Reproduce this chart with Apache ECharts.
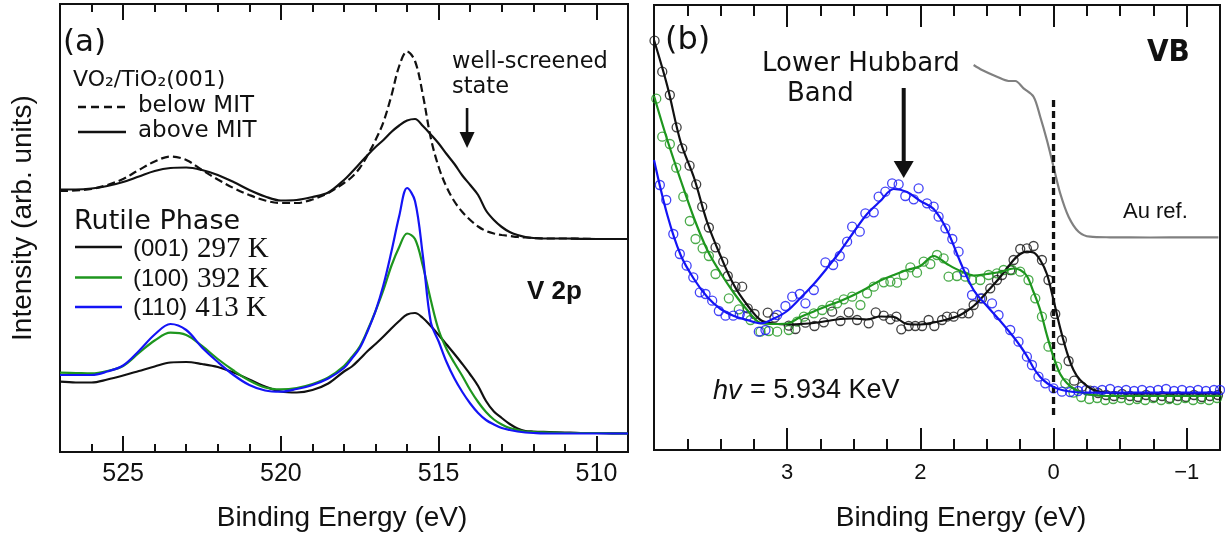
<!DOCTYPE html>
<html>
<head>
<meta charset="utf-8">
<title>VO2 V 2p and valence band HAXPES</title>
<script src="https://cdn.jsdelivr.net/npm/echarts@6/dist/echarts.min.js"></script>
<style>
  html, body { margin: 0; padding: 0; background: #fff; }
  #chart { width: 1225px; height: 539px; }
</style>
</head>
<body>
<div id="chart"></div>
<script>
// ---------- (a) V 2p core level ----------
const v2pEnergy = [527, 526.5, 526, 525.5, 525, 524.5, 524, 523.5, 523, 522.5, 522, 521.5, 521, 520.5, 520,
  519.5, 519, 518.5, 518, 517.75, 517.5, 517.25, 517, 516.75, 516.5, 516.25, 516, 515.75, 515.5, 515.25, 515,
  514.75, 514.5, 514.25, 514, 513.75, 513.5, 513.25, 513, 512.75, 512.5, 512.25, 512, 511.5, 511, 510.5, 510, 509.5, 509];

// VO2/TiO2(001), offset upper pair
const v2pBelowMIT = [261, 261.5, 263, 267, 273, 282, 290.5, 295.5, 292, 282, 272.5, 264, 257, 251.5, 249, 249,
  252.5, 259, 269, 275, 284, 297, 312, 330, 356, 386, 400.5, 391, 357, 314, 285, 265, 250.5, 240, 232, 225.5,
  221, 218.5, 217, 216, 215, 214.5, 214, 213.5, 213.5, 213.3, 213, 213, 213];
const v2pAboveMIT = [262.5, 262.5, 263.5, 266, 270, 275.5, 281, 284, 284.5, 282, 277, 270, 262, 255.5, 251.5, 252,
  255, 259.5, 272, 280, 288.5, 297, 305, 312, 320, 326.5, 331.5, 333, 326, 317.5, 308.5, 298, 288, 276.5, 267, 257,
  241.5, 232, 225, 220, 217, 215, 214, 213.5, 213.5, 213.2, 213, 213, 213];

// Rutile phase films
const v2pRutile001 = [70.3, 69.5, 69.5, 72.5, 76.5, 81, 85.5, 89.5, 90, 88, 85, 79.5, 72.5, 65.5, 60.5, 59.5, 62,
  68.5, 80.5, 85.5, 93, 101, 108, 115.5, 123.5, 131, 137.5, 139, 134, 126, 117, 107.5, 98, 88, 77.5, 66, 51, 40.5,
  34, 28, 23.5, 21, 20.5, 20, 19.5, 19, 19, 18.7, 18.5];
const v2pRutile100 = [79.3, 79, 78.7, 81, 86, 99, 111.5, 119.3, 117, 106, 93, 81.5, 71.5, 64.5, 62.7, 64, 68, 74.5,
  86, 95, 105.5, 122, 141, 162, 186, 205, 218.5, 213, 186, 152, 122, 103, 89, 76, 62, 50, 40, 32.5, 27.5, 24, 22,
  20.5, 20, 19.5, 19, 19, 19, 18.7, 18.5];
const v2pRutile110 = [77, 77, 77, 80.5, 86.5, 101, 117.5, 128, 122, 104.5, 90, 77, 67, 61.5, 60.3, 63, 67, 73.5, 84,
  93.5, 104, 121, 141, 167, 200, 236, 264, 251, 196, 130, 110.5, 90, 73.5, 60, 48.5, 39, 32, 27.5, 24, 22, 20.5,
  19.5, 19, 18.5, 18.5, 18.5, 18.5, 18.5, 18.5];

const v2pMajorTicks = [510, 515, 520, 525];
const v2pMinorTicks = [509, 511, 512, 513, 514, 516, 517, 518, 519, 521, 522, 523, 524, 526];
const wellScreenedArrow = [[514.1, 344, 304]];   // [energy, tail, tip]

// ---------- (b) valence band ----------
const vbFitEnergy = [3.0, 2.9, 2.8, 2.7, 2.6, 2.5, 2.4, 2.3, 2.2, 2.1, 2.0, 1.9, 1.8, 1.7, 1.6, 1.5, 1.4, 1.3, 1.2,
  1.1, 1.0, 0.9, 0.8, 0.7, 0.6, 0.5, 0.4, 0.3, 0.25, 0.2, 0.15, 0.1, 0.05, 0.0, -0.05, -0.1, -0.15, -0.2, -0.3,
  -0.4, -0.5, -0.6, -0.7, -0.8, -0.9, -1.0, -1.1, -1.25];
const vbFit001 = [410, 364, 308, 272.5, 227.5, 194, 165, 145, 130, 126.5, 125.5, 126, 127, 129, 131, 131.5, 130.5,
  133.5, 133, 126, 125.5, 127.5, 130.5, 135, 144, 158, 173, 190, 196, 198.3, 197.5, 190, 176, 150, 122, 98, 80, 70,
  60, 57.5, 57, 56.5, 56.5, 56.5, 56.5, 56.5, 56.5, 56.5];
const vbFit100 = [354, 310, 270, 232, 200, 177, 157, 140, 127, 126, 126.5, 133, 138.5, 144, 149, 155, 162, 169.5,
  175, 180, 184, 194, 186, 179, 174.5, 176, 178, 181.5, 180, 174, 158, 140, 115, 93, 76, 67, 61.5, 58, 55, 54, 54,
  54, 54, 54, 54, 54, 54, 54];
const vbFit110 = [290, 235, 195, 171, 153, 141, 134, 130, 126.7, 131.5, 139, 152, 166, 182, 199, 218, 236, 249, 261,
  258, 249, 241, 220, 188, 160, 144, 129, 113, 104, 94, 82, 73, 67, 63, 60.5, 59, 58, 57.5, 57.3, 57.3, 57.3, 57.3,
  57.3, 57.3, 57.3, 57.3, 57.3, 57.3];

const vbPoints001 = [[2.996,409.3],[2.938,378.3],[2.881,355],[2.830,322.7],[2.788,301.7],[2.733,284.3],[2.683,265.7],
  [2.638,243.3],[2.588,222.5],[2.538,202.7],[2.480,188.3],[2.446,174],[2.388,163.3],[2.338,163.3],[2.296,141.7],
  [2.245,136],[2.146,137.3],[2.095,132.3],[1.988,124.3],[1.938,121],[1.863,127.3],[1.795,124],[1.725,127.7],
  [1.662,138.3],[1.600,129],[1.538,137.7],[1.475,130],[1.388,126.7],[1.335,137.7],[1.275,134.3],[1.225,130.7],
  [1.180,133.3],[1.143,120.7],[1.088,124],[1.038,124],[0.987,124],[0.938,130],[0.895,124],[0.837,130],[0.800,133.3],
  [0.750,133.3],[0.687,136.7],[0.638,136.7],[0.600,145],[0.537,151.7],[0.475,161.7],[0.425,170],[0.387,175],
  [0.325,180],[0.300,190],[0.250,201],[0.200,201.7],[0.150,204],[0.087,190],[0.038,170],[-0.013,136],[-0.063,110],
  [-0.113,89],[-0.155,69.3],[-0.213,63.3],[-0.275,59.3],[-0.335,57],[-0.395,55],[-0.455,54],[-0.515,56],[-0.575,54],
  [-0.635,53],[-0.695,55],[-0.755,53],[-0.815,54],[-0.875,52],[-0.935,54],[-0.995,53],[-1.055,55],[-1.115,53],
  [-1.175,54],[-1.235,55]];
const vbPoints100 = [[2.983,351.3],[2.938,313.3],[2.881,306],[2.833,282.3],[2.780,253.3],[2.731,229],[2.688,211],
  [2.635,201.7],[2.588,194],[2.538,176],[2.438,151.7],[2.363,140.7],[2.275,130],[2.200,118.3],[2.138,119],
  [2.075,118.3],[1.988,120],[1.925,128.3],[1.875,133.3],[1.800,136.7],[1.737,140],[1.675,144.3],[1.625,146.7],
  [1.575,150.7],[1.512,153.3],[1.450,145],[1.400,156.7],[1.350,163.3],[1.275,167.7],[1.225,168.3],[1.175,167.3],
  [1.125,175],[1.075,182.7],[1.025,177.3],[0.975,188.3],[0.925,186],[0.875,195],[0.825,191.7],[0.788,173.3],
  [0.725,174],[0.662,173.3],[0.612,170],[0.550,170],[0.488,175],[0.425,176.7],[0.375,180],[0.312,180],[0.250,178.3],
  [0.188,170],[0.137,151.7],[0.087,133.3],[0.038,103.3],[-0.026,83.3],[-0.088,66.7],[-0.150,57.3],[-0.208,53],
  [-0.268,51],[-0.328,52],[-0.388,50],[-0.448,51],[-0.508,52],[-0.568,50],[-0.628,51],[-0.688,50],[-0.748,52],
  [-0.808,50],[-0.868,51],[-0.928,50],[-0.988,52],[-1.048,50],[-1.108,51],[-1.168,50],[-1.228,52]];
const vbPoints110 = [[2.956,265],[2.908,250],[2.855,216],[2.806,196],[2.755,184.3],[2.705,172.7],[2.656,157.7],
  [2.613,156],[2.563,149.3],[2.513,139],[2.463,134.3],[2.405,134.3],[2.356,135.7],[2.300,134],[2.213,118.3],
  [2.163,120],[2.075,135],[2.013,144],[1.962,153.3],[1.905,156],[1.863,146.7],[1.800,160],[1.713,187.7],[1.655,185],
  [1.605,194],[1.550,208.3],[1.512,223.3],[1.455,218.3],[1.413,236.7],[1.350,237.7],[1.313,253.3],[1.263,258.3],
  [1.212,266.7],[1.163,265.7],[1.113,254],[1.050,250.7],[1.013,261.7],[0.950,246.7],[0.900,243.3],[0.863,233.3],
  [0.812,221.7],[0.760,211],[0.713,198.3],[0.670,178],[0.612,155],[0.550,151.7],[0.462,146.7],[0.413,135],
  [0.325,120],[0.263,108.3],[0.200,93.3],[0.162,85],[0.113,73.3],[0.062,66.7],[0.000,61.7],[-0.063,58.3],
  [-0.125,58],[-0.185,59],[-0.245,60],[-0.305,59],[-0.365,60],[-0.425,61],[-0.485,59],[-0.545,60],[-0.605,59],
  [-0.665,60],[-0.725,59],[-0.785,60],[-0.845,61],[-0.905,59],[-0.965,60],[-1.025,59],[-1.085,60],[-1.145,59],
  [-1.205,60],[-1.25,60]];

// Gold reference Fermi edge
const auReference = [[0.600,385],[0.537,380],[0.425,373.3],[0.338,369],[0.287,369],[0.225,361.7],[0.150,353.3],
  [0.100,333.3],[0.050,310],[0,283.3],[-0.050,256.7],[-0.113,233.3],[-0.188,218.3],[-0.275,213.3],[-0.425,212.7],
  [-0.725,212.5],[-1.025,212.7],[-1.238,212.7]];
const fermiLevelLine = [[0, 350], [0, 33]];
const hubbardArrow = [[1.125, 362, 272]];

const vbMajorTicks = [2, 1, 0, -1];
const vbTickLabels = ['3', '2', '0', '\u22121'];
const vbMinorTicks = [2.75, 2.5, 2.25, 1.75, 1.5, 1.25, 0.75, 0.5, 0.25, -0.25, -0.5, -0.75];

// ---------- styling ----------
const INK = '#111';
const GREEN = '#1e961e';
const BLUE = '#1414f5';
const SANS = '"DejaVu Sans", Verdana, sans-serif';
const ARIAL = '"Liberation Sans", Arial, Helvetica, sans-serif';
const SERIF = '"Liberation Serif", "Times New Roman", serif';

const zip = (xs, ys) => xs.map((x, i) => [x, ys[i]]);

function tickAxis(grid, min, max, position, ticks, length, extra) {
  return Object.assign({
    type: 'value', gridIndex: grid, min, max, inverse: true, position,
    axisLine: { show: false },
    axisTick: { show: true, inside: true, length, customValues: ticks, lineStyle: { color: INK, width: 2 } },
    axisLabel: { show: false },
    splitLine: { show: false }
  }, extra || {});
}

function curve(xi, yi, data, color, width, dash, z) {
  return {
    type: 'line', xAxisIndex: xi, yAxisIndex: yi, data, showSymbol: false, smooth: 0.35,
    lineStyle: { color, width, type: dash || 'solid' }, z: z || 3, silent: true
  };
}

function points(data, color) {
  return {
    type: 'scatter', xAxisIndex: 4, yAxisIndex: 1, data, symbol: 'circle', symbolSize: 9, clip: false,
    itemStyle: { color: 'rgba(0,0,0,0)', borderColor: color, borderWidth: 1.3 }, z: 2, silent: true
  };
}

function arrow(xi, yi, data, shaft, headW, headL) {
  return {
    type: 'custom', xAxisIndex: xi, yAxisIndex: yi, data, silent: true, z: 10,
    renderItem(params, api) {
      const tail = api.coord([api.value(0), api.value(1)]);
      const tip = api.coord([api.value(0), api.value(2)]);
      return {
        type: 'group', children: [
          { type: 'rect', shape: { x: tail[0] - shaft / 2, y: tail[1], width: shaft, height: tip[1] - headL - tail[1] + 1 }, style: { fill: INK } },
          { type: 'polygon', shape: { points: [[tip[0] - headW / 2, tip[1] - headL], [tip[0] + headW / 2, tip[1] - headL], [tip[0], tip[1]]] }, style: { fill: INK } }
        ]
      };
    }
  };
}

function text(x, y, str, size, extra) {
  return {
    type: 'text', x, y, silent: true, z: 20,
    style: Object.assign({ text: str, fontSize: size, fontFamily: SANS, fill: INK, verticalAlign: 'middle', align: 'left' }, extra || {})
  };
}

function rule(x1, x2, y, color, dash) {
  return {
    type: 'line', silent: true, z: 20,
    shape: { x1, y1: y, x2, y2: y },
    style: { stroke: color, lineWidth: 2.6, lineDash: dash || null }
  };
}

function sampleLabel(y, miller, temp) {
  return text(133, y, '{m|' + miller + '} {t|' + temp + '}', 25, {
    rich: {
      m: { fontSize: 24, fontFamily: ARIAL, fill: INK, verticalAlign: 'middle' },
      t: { fontSize: 29, fontFamily: SERIF, fill: INK, verticalAlign: 'middle' }
    }
  });
}

const chart = echarts.init(document.getElementById('chart'));

chart.setOption({
  animation: false,
  backgroundColor: '#fff',
  grid: [
    { left: 60, top: 4, right: 597, bottom: 87, show: true, borderColor: INK, borderWidth: 2, backgroundColor: 'transparent', outerBoundsMode: 'none' },
    { left: 654, top: 5, right: 5, bottom: 89, show: true, borderColor: INK, borderWidth: 2, backgroundColor: 'transparent', outerBoundsMode: 'none' }
  ],
  xAxis: [
    tickAxis(0, 509, 527, 'bottom', v2pMajorTicks, 16, {
      axisLabel: { show: true, customValues: v2pMajorTicks, fontSize: 25, fontFamily: ARIAL, color: INK, margin: 10 }
    }),
    tickAxis(0, 509, 527, 'bottom', v2pMinorTicks, 8),
    tickAxis(0, 509, 527, 'top', v2pMajorTicks, 16),
    tickAxis(0, 509, 527, 'top', v2pMinorTicks, 8),
    tickAxis(1, -1.25, 3, 'bottom', vbMajorTicks, 22, {
      axisLabel: {
        show: true, customValues: vbMajorTicks, fontSize: 22, fontFamily: ARIAL, color: INK, margin: 12,
        formatter: (v) => vbTickLabels[vbMajorTicks.indexOf(v)]
      }
    }),
    tickAxis(1, -1.25, 3, 'bottom', vbMinorTicks, 11),
    tickAxis(1, -1.25, 3, 'top', vbMajorTicks, 22),
    tickAxis(1, -1.25, 3, 'top', vbMinorTicks, 11)
  ],
  yAxis: [
    { type: 'value', gridIndex: 0, min: 0, max: 448, show: false },
    { type: 'value', gridIndex: 1, min: 0, max: 445, show: false }
  ],
  series: [
    // (a)
    curve(0, 0, zip(v2pEnergy, v2pBelowMIT), INK, 2.2, [8, 4]),
    curve(0, 0, zip(v2pEnergy, v2pAboveMIT), INK, 2.2),
    curve(0, 0, zip(v2pEnergy, v2pRutile001), INK, 2.2),
    curve(0, 0, zip(v2pEnergy, v2pRutile100), GREEN, 2.2),
    curve(0, 0, zip(v2pEnergy, v2pRutile110), BLUE, 2.2),
    arrow(0, 0, wellScreenedArrow, 2.6, 15, 16),
    // (b)
    { type: 'line', xAxisIndex: 4, yAxisIndex: 1, data: auReference, showSymbol: false, smooth: 0.3,
      lineStyle: { color: '#808080', width: 2.2 }, z: 3, silent: true },
    { type: 'line', xAxisIndex: 4, yAxisIndex: 1, data: fermiLevelLine, showSymbol: false,
      lineStyle: { color: INK, width: 3.3, type: [7, 4] }, z: 4, silent: true },
    points(vbPoints001, INK),
    points(vbPoints100, GREEN),
    points(vbPoints110, BLUE),
    curve(4, 1, zip(vbFitEnergy, vbFit001), INK, 2.2, null, 5),
    curve(4, 1, zip(vbFitEnergy, vbFit100), GREEN, 2.2, null, 5),
    curve(4, 1, zip(vbFitEnergy, vbFit110), BLUE, 2.2, null, 5),
    arrow(4, 1, hubbardArrow, 4, 20, 17)
  ],
  graphic: [
    // panel (a) annotations
    text(63, 43, '(a)', 31),
    text(73, 80, 'VO\u2082/TiO\u2082(001)', 22),
    rule(78, 126, 107, INK, [8, 5]),
    text(138, 106, 'below MIT', 23),
    rule(78, 126, 132, INK),
    text(138, 131, 'above MIT', 23),
    text(74, 222, 'Rutile Phase', 27),
    rule(75, 122, 247, INK),
    sampleLabel(249, '(001)', '297 K'),
    rule(75, 122, 277.5, GREEN),
    sampleLabel(279, '(100)', '392 K'),
    rule(75, 122, 307, BLUE),
    sampleLabel(308, '(110)', '413 K'),
    text(452, 62, 'well-screened', 22.5),
    text(452, 87, 'state', 22.5),
    text(527, 292, 'V 2p', 26, { fontFamily: ARIAL, fontWeight: 'bold' }),
    { type: 'text', x: 23, y: 218, rotation: Math.PI / 2, silent: true,
      style: { text: 'Intensity (arb. units)', fontSize: 28, fontFamily: ARIAL, fill: INK, align: 'center', verticalAlign: 'middle' } },
    text(342, 518, 'Binding Energy (eV)', 28, { fontFamily: ARIAL, align: 'center' }),
    // panel (b) annotations
    text(665, 41, '(b)', 32),
    text(762, 64, 'Lower Hubbard', 26),
    text(787, 94, 'Band', 26),
    text(1147, 53, 'VB', 31, { fontFamily: '"DejaVu Sans Condensed", "Liberation Sans Narrow", ' + ARIAL, fontWeight: 'bold' }),
    text(1123, 212, 'Au ref.', 22, { fontFamily: ARIAL }),
    text(713, 391, '{i|hv} {n|= 5.934 KeV}', 27, {
      rich: {
        i: { fontSize: 27, fontFamily: ARIAL, fontStyle: 'italic', fill: INK },
        n: { fontSize: 27, fontFamily: ARIAL, fill: INK }
      }
    }),
    text(961, 518, 'Binding Energy (eV)', 28, { fontFamily: ARIAL, align: 'center' })
  ]
});
</script>
</body>
</html>
